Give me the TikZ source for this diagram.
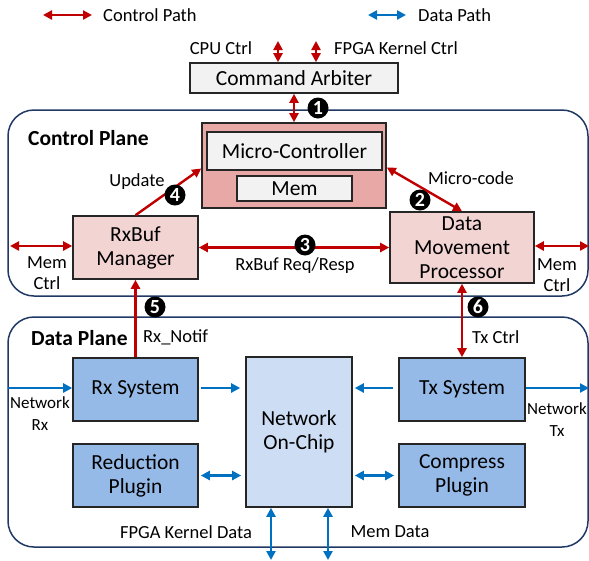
\documentclass[tikz,border=0pt]{standalone}
\usepackage{fontspec}
\setmainfont{Carlito}
\usepackage{tikz}
\usetikzlibrary{arrows.meta}
\definecolor{ctrlred}{RGB}{192,0,0}
\definecolor{datablue}{RGB}{0,112,192}
\definecolor{planeline}{RGB}{31,56,100}
\definecolor{arbgray}{RGB}{242,242,242}
\definecolor{mcfill}{RGB}{232,169,166}
\definecolor{ctrlfill}{RGB}{242,212,211}
\definecolor{datafill}{RGB}{150,186,232}
\definecolor{nocfill}{RGB}{204,221,244}
\def\boxfont{\fontsize{21.5}{24}\selectfont}
\def\labfont{\fontsize{18.5}{21}\selectfont}
\def\netfont{\fontsize{17}{22}\selectfont}
\tikzset{
  >={Triangle[length=9pt,width=9pt]},
  blk/.style={draw=black!85, line width=1.6pt, inner sep=0pt, align=center, font=\boxfont},
  ctrlblk/.style={blk, fill=ctrlfill},
  datablk/.style={blk, fill=datafill},
  plane/.style={draw=planeline, line width=1.5pt, rounded corners=26pt},
  ctrlpath/.style={draw=ctrlred, line width=2.4pt, <->},
  datapath/.style={draw=datablue, line width=2.4pt, <->},
  lab/.style={inner sep=0pt, align=center, font=\labfont},
  num/.style={circle, fill=black, text=white, inner sep=0pt, minimum size=21pt, font=\fontsize{20}{20}\selectfont\bfseries}
}
\begin{document}
\begin{tikzpicture}[x=1pt, y=-1pt]
			%%%%% START %%%%%
			\useasboundingbox (0, 0) rectangle (589, 560);
			
			% legend
			\coordinate (ctrlA) at (43, 15);
			\coordinate (ctrlB) at (92, 15);
			\draw[ctrlpath] (ctrlA) -- (ctrlB);
			\node[lab, anchor=west] (ctrllegend) at (103, 15) {Control Path};
			\coordinate (dataA) at (368, 15);
			\coordinate (dataB) at (406, 15);
			\draw[datapath] (dataA) -- (dataB);
			\node[lab, anchor=west] (datalegend) at (418, 15) {Data Path};
			
			% planes
			\draw[plane] (8, 110) rectangle (588, 296);
			\draw[plane] (8, 317) rectangle (588, 547);
			\node[lab, anchor=west, font=\boxfont\bfseries] (ctrlplane) at (28, 138) {Control Plane};
			\node[lab, anchor=west, font=\boxfont\bfseries] (dataplane) at (31, 338) {Data Plane};
			
			% command arbiter
			\node[blk, fill=arbgray, minimum width=208pt, minimum height=30pt] (arbiter) at (294, 78) {Command Arbiter};
			\coordinate (cpuctrl) at (278, 41);
			\coordinate (fpgactrl) at (316, 41);
			\draw[ctrlpath] (cpuctrl) -- (cpuctrl |- arbiter.north);
			\draw[ctrlpath] (fpgactrl) -- (fpgactrl |- arbiter.north);
			\node[lab] (cpulab) at (221, 48) {CPU Ctrl};
			\node[lab, anchor=west] (fpgalab) at (334, 48) {FPGA Kernel Ctrl};
			
			% control plane blocks
			\node[blk, fill=mcfill, minimum width=184pt, minimum height=85pt] (mcouter) at (294, 165.5) {};
			\node[blk, fill=arbgray, minimum width=175pt, minimum height=38pt] (mc) at (294.5, 151) {Micro-Controller};
			\node[blk, fill=arbgray, minimum width=115pt, minimum height=25pt] (mem) at (294.5, 188.5) {Mem};
			\node[ctrlblk, minimum width=125pt, minimum height=63pt] (rxbuf) at (135.5, 247.5) {RxBuf\\Manager};
			\node[ctrlblk, minimum width=144pt, minimum height=71pt] (dmp) at (462, 247.5) {Data\\Movement\\Processor};
			
			\draw[ctrlpath] (arbiter.south) -- (mcouter.north);
			\draw[ctrlpath, <-] ([yshift=-3pt]mcouter.west) -- (rxbuf.north);
			\draw[ctrlpath] ([yshift=-2pt]mcouter.east) -- (dmp.north);
			\draw[ctrlpath] (rxbuf.east) -- (dmp.west);
			\coordinate (memL) at (10, 246);
			\coordinate (memR) at (589, 246);
			\draw[ctrlpath] (memL) -- (memL -| rxbuf.west);
			\draw[ctrlpath] (dmp.east |- memR) -- (memR);
			
			\node[lab] (updlab) at (137, 182) {Update};
			\node[lab] (mcodelab) at (471, 178) {Micro-code};
			\node[lab] (reqlab) at (295, 266) {RxBuf Req/Resp};
			\node[lab] (memctrlL) at (47, 273) {Mem\\Ctrl};
			\node[lab] (memctrlR) at (557, 275) {Mem\\Ctrl};
			
			\node[num] (n1) at (318, 108) {1};
			\node[num] (n2) at (420, 200) {2};
			\node[num] (n3) at (305, 245) {3};
			\node[num] (n4) at (175, 195) {4};
			\node[num] (n5) at (155, 307) {5};
			\node[num] (n6) at (478, 307) {6};
			
			% data plane blocks
			\node[datablk, minimum width=125pt, minimum height=63pt] (rx) at (135.5, 389.5) {Rx System};
			\node[datablk, minimum width=125pt, minimum height=63pt] (reduce) at (135.5, 475.5) {Reduction\\Plugin};
			\node[blk, fill=nocfill, minimum width=106pt, minimum height=150pt] (noc) at (299, 432) {Network\\On-Chip};
			\node[datablk, minimum width=126pt, minimum height=63pt] (tx) at (462, 389.5) {Tx System};
			\node[datablk, minimum width=126pt, minimum height=63pt] (compress) at (462, 475.5) {Compress\\Plugin};
			
			\draw[ctrlpath, ->] (rx.north) -- (rxbuf.south);
			\draw[ctrlpath] (dmp.south) -- (tx.north);
			\node[lab, anchor=west] (notiflab) at (143, 337) {Rx\_Notif};
			\node[lab, anchor=west] (txctrllab) at (472, 337) {Tx Ctrl};
			
			\coordinate (netrx) at (8, 388);
			\coordinate (nettx) at (589, 388);
			\draw[datapath, ->] (netrx) -- (netrx -| rx.west);
			\draw[datapath, ->, shorten <=2pt, shorten >=5pt] (rx.east |- netrx) -- (noc.west |- netrx);
			\draw[datapath, ->, shorten <=5pt, shorten >=2pt] (tx.west |- nettx) -- (noc.east |- nettx);
			\draw[datapath, ->] (tx.east |- nettx) -- (nettx);
			\draw[datapath, shorten <=2pt, shorten >=4pt] (reduce.east) -- (noc.west |- reduce.east);
			\draw[datapath, shorten <=2pt, shorten >=4pt] (noc.east |- compress.west) -- (compress.west);
			\coordinate (kdata) at (271, 560);
			\coordinate (mdata) at (328, 560);
			\draw[datapath] (kdata |- noc.south) -- (kdata);
			\draw[datapath] (mdata |- noc.south) -- (mdata);
			
			\node[lab, font=\netfont] (netrxlab) at (40, 414) {Network\\Rx};
			\node[lab, font=\netfont] (nettxlab) at (557, 420) {Network\\Tx};
			\node[lab] (kdatalab) at (186, 532) {FPGA Kernel Data};
			\node[lab] (mdatalab) at (390, 532) {Mem Data};
			%%%%% END %%%%%
\end{tikzpicture}
\end{document}
